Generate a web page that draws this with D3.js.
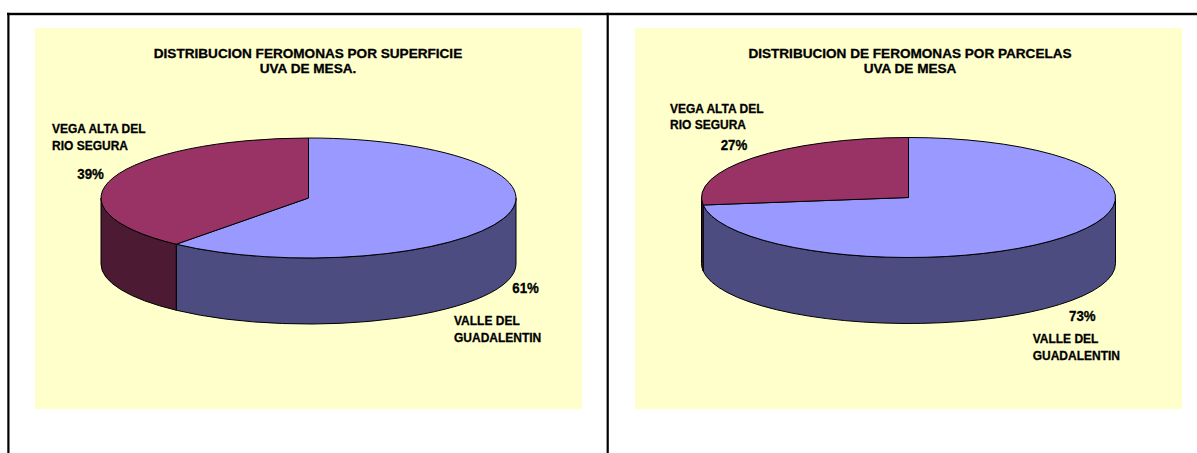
<!DOCTYPE html>
<html>
<head>
<meta charset="utf-8">
<script src="https://cdn.jsdelivr.net/npm/d3@7"></script>
<style>
  html, body { margin: 0; padding: 0; background: #ffffff; }
  svg { display: block; }
  text { font-family: "Liberation Sans", Arial, sans-serif; font-weight: bold; fill: #000; stroke: #000; stroke-width: 0.3px; }
</style>
</head>
<body>
<svg id="chart" width="1197" height="453"></svg>
<script>
// ---- data ----
const categories = ["VALLE DEL GUADALENTIN", "VEGA ALTA DEL RIO SEGURA"];
const categoryLines = [["VALLE DEL", "GUADALENTIN"], ["VEGA ALTA DEL", "RIO SEGURA"]];
const superficieValues = [61, 39];
const parcelasValues = [73, 27];
const superficieTitle = ["DISTRIBUCION FEROMONAS POR SUPERFICIE", "UVA DE MESA."];
const parcelasTitle = ["DISTRIBUCION DE FEROMONAS POR PARCELAS", "UVA DE MESA"];
const topColors = ["#9999FF", "#993366"];
const sideColors = ["#4C4C80", "#4C1A33"];

// ---- layout ----
const W = 1197, H = 453;
const svg = d3.select("#chart");
svg.append("rect").attr("width", W).attr("height", H).attr("fill", "#ffffff");

const charts = [
  {
    values: superficieValues, title: superficieTitle,
    box: { x: 35, y: 28, w: 547, h: 381 },
    titleX: 308, cx: 308.5, cy: 198, rx: 207.5, ry: 60, depth: 66,
    labels: [
      { pct: [512.3, 292.7], name: [454, 325] },
      { pct: [77.3, 179], name: [52, 133.3] }
    ]
  },
  {
    values: parcelasValues, title: parcelasTitle,
    box: { x: 635, y: 28, w: 547, h: 381 },
    titleX: 910, cx: 908.5, cy: 197.5, rx: 207, ry: 60, depth: 66,
    labels: [
      { pct: [1069, 321], name: [1032.7, 343.3] },
      { pct: [720.7, 150], name: [670, 112.7] }
    ]
  }
];

// frame lines
svg.append("rect").attr("x", 7).attr("y", 12.8).attr("width", W - 7).attr("height", 2.4).attr("fill", "#000");
svg.append("rect").attr("x", 7.3).attr("y", 12.8).attr("width", 2.2).attr("height", H - 12.8).attr("fill", "#000");
svg.append("rect").attr("x", 606.6).attr("y", 12.8).attr("width", 2.2).attr("height", H - 12.8).attr("fill", "#000");

const pct = d3.format(".0%");

// text helper: anchored at (x, y), with font size and horizontal scale
function addText(g, x, y, lines, size, sx, lineGap, anchor) {
  const t = g.append("text")
    .attr("transform", `translate(${x},${y}) scale(${sx},1)`)
    .attr("font-size", size + "px")
    .attr("text-anchor", anchor || "start");
  lines.forEach((line, k) => {
    t.append("tspan").attr("x", 0).attr("y", k * lineGap).text(line);
  });
  return t;
}

charts.forEach(c => {
  const g = svg.append("g");
  g.append("rect").attr("x", c.box.x).attr("y", c.box.y).attr("width", c.box.w).attr("height", c.box.h)
    .attr("fill", "#FFFFCC");

  // title
  addText(g, c.titleX, 57.7, c.title, 13.2, 1.03, 15, "middle");

  const total = d3.sum(c.values);
  const arcs = d3.pie().sort(null).value(d => d).startAngle(0).endAngle(2 * Math.PI)(c.values);

  const px = a => c.cx + c.rx * Math.sin(a);
  const py = a => c.cy - c.ry * Math.cos(a);

  // side walls (front half: angles between PI/2 and 3PI/2)
  arcs.forEach((d, i) => {
    const s = Math.max(d.startAngle, Math.PI / 2);
    const e = Math.min(d.endAngle, 3 * Math.PI / 2);
    if (e <= s) return;
    const path = `M${px(s)},${py(s)} A${c.rx},${c.ry} 0 0 1 ${px(e)},${py(e)} ` +
      `L${px(e)},${py(e) + c.depth} A${c.rx},${c.ry} 0 0 0 ${px(s)},${py(s) + c.depth} Z`;
    g.append("path").attr("d", path).attr("fill", sideColors[i])
      .attr("stroke", "#000").attr("stroke-width", 1).attr("stroke-linejoin", "round");
  });

  // top faces
  arcs.forEach((d, i) => {
    const large = (d.endAngle - d.startAngle) > Math.PI ? 1 : 0;
    const path = `M${c.cx},${c.cy} L${px(d.startAngle)},${py(d.startAngle)} ` +
      `A${c.rx},${c.ry} 0 ${large} 1 ${px(d.endAngle)},${py(d.endAngle)} Z`;
    g.append("path").attr("d", path).attr("fill", topColors[i])
      .attr("stroke", "#000").attr("stroke-width", 1).attr("stroke-linejoin", "round");
  });

  // labels
  arcs.forEach((d, i) => {
    const L = c.labels[i];
    addText(g, L.pct[0], L.pct[1], [pct(d.value / total)], 14, 0.95, 0, "start");
    addText(g, L.name[0], L.name[1], categoryLines[i], 13, 0.923, 16.8, "start");
  });
});
</script>
</body>
</html>
